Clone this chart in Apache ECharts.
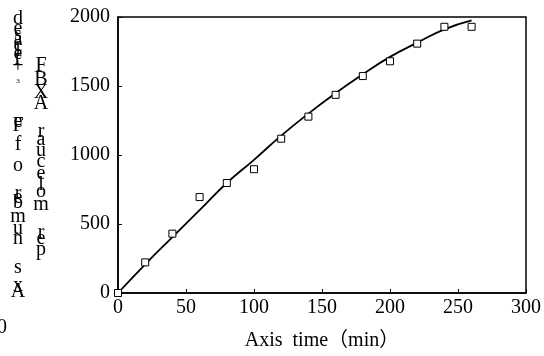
<!DOCTYPE html>
<html>
<head>
<meta charset="utf-8">
<script src="https://cdn.jsdelivr.net/npm/echarts@6/dist/echarts.min.js"></script>
<style>
  html, body { margin: 0; padding: 0; background: #fff; }
  #chart { width: 544px; height: 356px; }
</style>
</head>
<body>
<div id="chart"></div>
<script>
// measured points (time in min, value)
const times = [0, 20, 40, 60, 80, 100, 120, 140, 160, 180, 200, 220, 240, 260];
const measured = [0, 222, 430, 695, 797, 897, 1118, 1278, 1436, 1572, 1679, 1807, 1929, 1929];
// fitted curve
const fitted = [0, 208, 405, 600, 797, 965, 1140, 1300, 1448, 1585, 1711, 1814, 1910, 1975];
const xTicks = [0, 50, 100, 150, 200, 250, 300];
const yTicks = [0, 500, 1000, 1500, 2000];

// garbled vertical y-axis title, two columns of stacked glyphs
const titleCol1 = [['d',19],['e',29],['s',35],['a',40],['c',46],['l',51],['e',54],['r',59],['+',67],['₃',78],
  ['e',122],['F',126],['f',145],['o',166],['r',194],['e',198],['b',203],['m',217],['u',229],['n',239],
  ['s',268],['x',286],['A',292]];
const titleCol2 = [['F',66],['B',80],['X',93],['A',104],['r',132],['a',140],['u',151],['c',162],['e',174],
  ['l',185],['o',192],['m',205],['r',233],['e',239],['p',250]];

const serif = '"Liberation Serif", "Noto Sans CJK SC", serif';
const chart = echarts.init(document.getElementById('chart'));

const glyphs = [];
function addCol(list, x, size) {
  list.forEach(([ch, y]) => {
    glyphs.push({
      type: 'text', x: x, y: y,
      style: { text: ch, font: (ch === '₃' ? 12 : size) + 'px ' + serif, fill: '#000',
        align: 'center', verticalAlign: 'middle' }
    });
  });
}
addCol(titleCol1, 18, 20);
addCol(titleCol2, 41, 20);
glyphs.push({ type: 'text', x: -3, y: 328,
  style: { text: '0', font: '20px ' + serif, fill: '#000', verticalAlign: 'middle' } });

chart.setOption({
  backgroundColor: '#fff',
  animation: false,
  grid: { left: 118, top: 17, right: 14, bottom: 60, show: true, borderColor: '#000', borderWidth: 1.5 },
  xAxis: {
    type: 'value', min: 0, max: 300, interval: 50,
    name: 'Axis  time（min）', nameLocation: 'middle', nameGap: 38,
    nameTextStyle: { fontFamily: serif, fontSize: 20, color: '#000' },
    axisLine: { lineStyle: { color: '#000', width: 1.5 } },
    axisTick: { inside: true, length: 4, lineStyle: { color: '#000' } },
    axisLabel: { fontFamily: serif, fontSize: 20, color: '#000', margin: 5 },
    splitLine: { show: false }
  },
  yAxis: {
    type: 'value', min: 0, max: 2000, interval: 500,
    axisLine: { show: true, lineStyle: { color: '#000', width: 1.5 } },
    axisTick: { show: true, inside: true, length: 4, lineStyle: { color: '#000' } },
    axisLabel: { fontFamily: serif, fontSize: 20, color: '#000', margin: 8, formatter: v => String(v) },
    splitLine: { show: false }
  },
  graphic: glyphs,
  series: [
    {
      type: 'line', smooth: true, showSymbol: false,
      data: times.map((t, i) => [t, fitted[i]]),
      lineStyle: { color: '#000', width: 1.8 }, z: 2
    },
    {
      type: 'scatter', symbol: 'rect', symbolSize: 7,
      data: times.map((t, i) => [t, measured[i]]),
      itemStyle: { color: '#fff', borderColor: '#000', borderWidth: 1, opacity: 1 }, z: 3
    }
  ]
});
</script>
</body>
</html>
